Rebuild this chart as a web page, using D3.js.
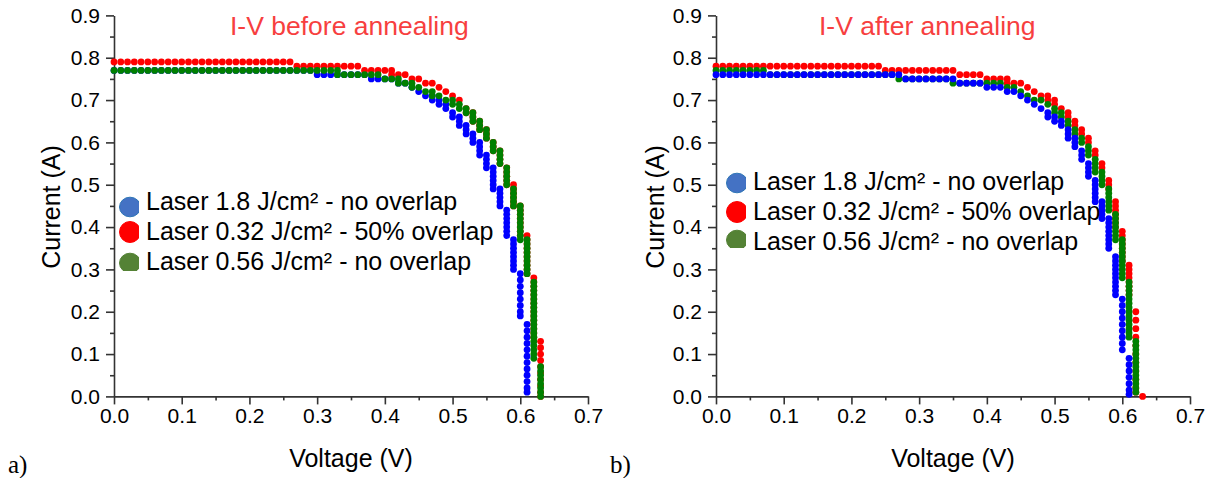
<!DOCTYPE html>
<html><head><meta charset="utf-8">
<script src="https://cdn.jsdelivr.net/npm/d3@7"></script>
<style>
body{margin:0;background:#fff;}
svg{display:block;font-family:"Liberation Sans",Arial,sans-serif;}
</style></head>
<body><svg id="c" width="1210" height="478"></svg>
<script>
// ---------- data ----------
const xTicks = [0,0.1,0.2,0.3,0.4,0.5,0.6,0.7];
const yTicks = [0,0.1,0.2,0.3,0.4,0.5,0.6,0.7,0.8,0.9];
const seriesNames = ["Laser 1.8 J/cm² - no overlap","Laser 0.32 J/cm² - 50% overlap","Laser 0.56 J/cm² - no overlap"];
const titles = ["I-V before annealing","I-V after annealing"];
const panelLabels = ["a)","b)"];

// rows: [voltage, current, current, ...]
const beforeBlue = [
[0.00,0.77],[0.01,0.77],[0.02,0.77],[0.03,0.77],[0.04,0.77],[0.05,0.77],[0.06,0.77],[0.07,0.77],[0.08,0.77],[0.09,0.77],
[0.10,0.77],[0.11,0.77],[0.12,0.77],[0.13,0.77],[0.14,0.77],[0.15,0.77],[0.16,0.77],[0.17,0.77],[0.18,0.77],[0.19,0.77],
[0.20,0.77],[0.21,0.77],[0.22,0.77],[0.23,0.77],[0.24,0.77],[0.25,0.77],[0.26,0.77],[0.27,0.77],[0.28,0.77],[0.29,0.77],
[0.30,0.76],[0.31,0.76],[0.32,0.76],[0.33,0.76],[0.34,0.76],[0.35,0.76],[0.36,0.76],[0.37,0.76],
[0.38,0.75],[0.39,0.75],[0.40,0.75],[0.41,0.75],
[0.42,0.74],[0.43,0.74],[0.44,0.73],[0.45,0.72],[0.46,0.71],[0.47,0.71,0.70],[0.48,0.70,0.69],[0.49,0.69,0.68],
[0.50,0.67,0.66],[0.51,0.66,0.65,0.64],[0.52,0.64,0.63,0.62],[0.53,0.62,0.61,0.60],[0.54,0.60,0.59,0.58,0.57],
[0.55,0.57,0.56,0.55,0.54],[0.56,0.54,0.53,0.52,0.51,0.50,0.49],[0.57,0.49,0.48,0.47,0.46,0.45],
[0.58,0.44,0.43,0.42,0.41,0.40,0.39,0.38],[0.59,0.37,0.36,0.35,0.34,0.33,0.32,0.31,0.30],
[0.60,0.29,0.275,0.26,0.245,0.23,0.215,0.20,0.19],
[0.61,0.17,0.155,0.14,0.125,0.11,0.095,0.08,0.065,0.05,0.035,0.02,0.01]
];
const beforeRed = [
[0.00,0.79],[0.01,0.79],[0.02,0.79],[0.03,0.79],[0.04,0.79],[0.05,0.79],[0.06,0.79],[0.07,0.79],[0.08,0.79],[0.09,0.79],
[0.10,0.79],[0.11,0.79],[0.12,0.79],[0.13,0.79],[0.14,0.79],[0.15,0.79],[0.16,0.79],[0.17,0.79],[0.18,0.79],[0.19,0.79],
[0.20,0.79],[0.21,0.79],[0.22,0.79],[0.23,0.79],[0.24,0.79],[0.25,0.79],[0.26,0.79],
[0.27,0.78],[0.28,0.78],[0.29,0.78],[0.30,0.78],[0.31,0.78],[0.32,0.78],[0.33,0.78],[0.34,0.78],[0.35,0.78],[0.36,0.78],
[0.37,0.77],[0.38,0.77],[0.39,0.77],[0.40,0.77],
[0.41,0.77,0.76],[0.42,0.76],[0.43,0.76],[0.44,0.75],[0.45,0.75],[0.46,0.74],[0.47,0.74],[0.48,0.73],[0.49,0.72],[0.50,0.71],[0.51,0.70],
[0.52,0.68,0.67],[0.53,0.67,0.66,0.65],[0.54,0.65,0.64,0.63],[0.55,0.63,0.62,0.61],[0.56,0.60,0.59,0.58],[0.57,0.58,0.57,0.56,0.55],
[0.58,0.54,0.53,0.52,0.51,0.50],[0.59,0.50,0.49,0.48,0.47,0.46,0.45],[0.60,0.45,0.44,0.43,0.42,0.41,0.40,0.39,0.38],
[0.61,0.38,0.37,0.36,0.35,0.34,0.33,0.32,0.31,0.30,0.29],
[0.62,0.28,0.27,0.26,0.25,0.24,0.23,0.22,0.21,0.20,0.19,0.18,0.17,0.16,0.15,0.14],
[0.63,0.13,0.115,0.10,0.085,0.07,0.055,0.04,0.025,0.01,0.00]
];
const beforeGreen = [
[0.00,0.77],[0.01,0.77],[0.02,0.77],[0.03,0.77],[0.04,0.77],[0.05,0.77],[0.06,0.77],[0.07,0.77],[0.08,0.77],[0.09,0.77],
[0.10,0.77],[0.11,0.77],[0.12,0.77],[0.13,0.77],[0.14,0.77],[0.15,0.77],[0.16,0.77],[0.17,0.77],[0.18,0.77],[0.19,0.77],
[0.20,0.77],[0.21,0.77],[0.22,0.77],[0.23,0.77],[0.24,0.77],[0.25,0.77],[0.26,0.77],[0.27,0.77],[0.28,0.77],[0.29,0.77],
[0.30,0.77],[0.31,0.77],[0.32,0.77],[0.33,0.77,0.76],
[0.34,0.76],[0.35,0.76],[0.36,0.76],[0.37,0.76],[0.38,0.76],[0.39,0.76],
[0.40,0.75],[0.41,0.75],[0.42,0.75,0.74],[0.43,0.74],[0.44,0.74,0.73],[0.45,0.73],[0.46,0.72],[0.47,0.72,0.71],[0.48,0.71],[0.49,0.70],
[0.50,0.70,0.69],[0.51,0.69,0.68],[0.52,0.68,0.67],[0.53,0.67,0.66,0.65],[0.54,0.65,0.64,0.63],[0.55,0.63,0.62,0.61],
[0.56,0.60,0.59,0.58],[0.57,0.58,0.57,0.56,0.55],[0.58,0.54,0.53,0.52,0.51,0.50],[0.59,0.49,0.48,0.47,0.46,0.45],
[0.60,0.45,0.44,0.43,0.42,0.41,0.40,0.39,0.38,0.37],
[0.61,0.37,0.36,0.35,0.34,0.33,0.32,0.31,0.30,0.29],
[0.62,0.27,0.26,0.25,0.24,0.23,0.22,0.21,0.20,0.19,0.18,0.17,0.16,0.15,0.14,0.13,0.12,0.11,0.10,0.09],
[0.63,0.07,0.06,0.05,0.04,0.03,0.02,0.01,0.00]
];
const afterBlue = [
[0.00,0.76],[0.01,0.76],[0.02,0.76],[0.03,0.76],[0.04,0.76],[0.05,0.76],[0.06,0.76],[0.07,0.76],[0.08,0.76],[0.09,0.76],
[0.10,0.76],[0.11,0.76],[0.12,0.76],[0.13,0.76],[0.14,0.76],[0.15,0.76],[0.16,0.76],[0.17,0.76],[0.18,0.76],[0.19,0.76],
[0.20,0.76],[0.21,0.76],[0.22,0.76],[0.23,0.76],[0.24,0.76],[0.25,0.76],[0.26,0.76],[0.27,0.76],
[0.28,0.75],[0.29,0.75],[0.30,0.75],[0.31,0.75],[0.32,0.75],[0.33,0.75],[0.34,0.75],[0.35,0.75],
[0.36,0.74],[0.37,0.74],[0.38,0.74],[0.39,0.74],
[0.40,0.73],[0.41,0.73],[0.42,0.73],[0.43,0.72],[0.44,0.72],
[0.45,0.71],[0.46,0.70],[0.47,0.69],[0.48,0.68],[0.49,0.67,0.66],[0.50,0.66,0.65],[0.51,0.65,0.64],
[0.52,0.63,0.62,0.61],[0.53,0.61,0.60,0.59],[0.54,0.58,0.57,0.56],[0.55,0.55,0.54,0.53,0.52],
[0.56,0.51,0.50,0.49,0.48,0.47,0.46],[0.57,0.46,0.45,0.44,0.43,0.42],
[0.58,0.42,0.41,0.40,0.39,0.38,0.37,0.36,0.35],
[0.59,0.33,0.32,0.31,0.30,0.29,0.28,0.27,0.26,0.25,0.24],
[0.60,0.23,0.215,0.20,0.185,0.17,0.155,0.14,0.125,0.11],
[0.61,0.09,0.075,0.06,0.045,0.03,0.015,0.005]
];
const afterRed = [
[0.00,0.78],[0.01,0.78],[0.02,0.78],[0.03,0.78],[0.04,0.78],[0.05,0.78],[0.06,0.78],[0.07,0.78],[0.08,0.78],[0.09,0.78],
[0.10,0.78],[0.11,0.78],[0.12,0.78],[0.13,0.78],[0.14,0.78],[0.15,0.78],[0.16,0.78],[0.17,0.78],[0.18,0.78],[0.19,0.78],
[0.20,0.78],[0.21,0.78],[0.22,0.78],[0.23,0.78],[0.24,0.78],
[0.25,0.77],[0.26,0.77],[0.27,0.77],[0.28,0.77],[0.29,0.77],[0.30,0.77],[0.31,0.77],[0.32,0.77],[0.33,0.77],[0.34,0.77],[0.35,0.77],
[0.36,0.76],[0.37,0.76],[0.38,0.76],[0.39,0.76],
[0.40,0.75],[0.41,0.75],[0.42,0.75],[0.43,0.75,0.74],[0.44,0.74],[0.45,0.74],[0.46,0.73],[0.47,0.72],[0.48,0.71],
[0.49,0.71,0.70],[0.50,0.70,0.69],[0.51,0.68],[0.52,0.67,0.66],[0.53,0.65,0.64],[0.54,0.63,0.62],[0.55,0.61,0.60],
[0.56,0.58,0.57],[0.57,0.55,0.54],[0.58,0.51,0.50,0.49],
[0.59,0.46,0.45,0.44,0.43,0.42,0.41,0.40],[0.60,0.39,0.38,0.37,0.36,0.35,0.34,0.33,0.32],
[0.61,0.31,0.30,0.29,0.28,0.27,0.26,0.25,0.24],
[0.62,0.20,0.18,0.16,0.14,0.12,0.10,0.08,0.06,0.04,0.02,0.01],[0.63,0.00]
];
const afterGreen = [
[0.00,0.77],[0.01,0.77],[0.02,0.77],[0.03,0.77],[0.04,0.77],[0.05,0.77],[0.06,0.77],[0.07,0.77],
[0.08,0.76],[0.09,0.76],[0.10,0.76],[0.11,0.76],[0.12,0.76],[0.13,0.76],[0.14,0.76],[0.15,0.76],[0.16,0.76],[0.17,0.76],
[0.18,0.76],[0.19,0.76],[0.20,0.76],[0.21,0.76],[0.22,0.76],[0.23,0.76],[0.24,0.76],[0.25,0.76],[0.26,0.76],
[0.27,0.75],[0.28,0.75],[0.29,0.75],[0.30,0.75],[0.31,0.75],[0.32,0.75],[0.33,0.75],[0.34,0.75],
[0.35,0.74],[0.36,0.74],[0.37,0.74],[0.38,0.74],[0.39,0.74],[0.40,0.74],[0.41,0.74],[0.42,0.74],
[0.43,0.73],[0.44,0.73],[0.45,0.72],[0.46,0.71],[0.47,0.70],[0.48,0.70],[0.49,0.69],[0.50,0.68,0.67],[0.51,0.67,0.66],
[0.52,0.65,0.64],[0.53,0.63,0.62],[0.54,0.61,0.60],[0.55,0.59,0.58,0.57],[0.56,0.56,0.55,0.54,0.53],[0.57,0.53,0.52,0.51,0.50],
[0.58,0.49,0.48,0.47,0.46,0.45,0.44],[0.59,0.43,0.42,0.41,0.40,0.39,0.38,0.37],
[0.60,0.37,0.36,0.35,0.34,0.33,0.32,0.31,0.30,0.29,0.28],
[0.61,0.27,0.26,0.25,0.24,0.23,0.22,0.21,0.20,0.19,0.18,0.17,0.16,0.15,0.14],
[0.62,0.13,0.12,0.11,0.10,0.09,0.08,0.07,0.06,0.05,0.04,0.03,0.02,0.01]
];

// ---------- drawing ----------
const dotColors = {blue:"#0000ff", red:"#ff0000", green:"#008000"};
const legendColors = ["#4472c4","#ff0000","#548235"];
const legendStroke = ["#2e75b6","#ff0000","#548235"];

const svg = d3.select("#c");
const yScale = d3.scaleLinear().domain([0,0.9]).range([396.4,15.4]);

const panels = [
  {x0:114, x1:588, title:titles[0], titleX:230, label:panelLabels[0], labelX:8, yTitleX:60,
   legendX:146, legendY:[210,240,270], markerY:[207,232,263],
   order:[["blue",beforeBlue],["red",beforeRed],["green",beforeGreen]]},
  {x0:716, x1:1190, title:titles[1], titleX:819, label:panelLabels[1], labelX:610, yTitleX:664,
   legendX:753, legendY:[190,220,250], markerY:[183,212,240],
   order:[["red",afterRed],["green",afterGreen],["blue",afterBlue]]}
];

const toPts = rows => rows.flatMap(([v,...is]) => is.map(i => ({v,i})));

panels.forEach((p,pi) => {
  const x = d3.scaleLinear().domain([0,0.7]).range([p.x0,p.x1]);
  const g = svg.append("g");

  // minor ticks
  const minorX = xTicks.slice(0,-1).map(t=>+(t+0.05).toFixed(2));
  const minorY = yTicks.slice(0,-1).map(t=>+(t+0.05).toFixed(2));
  g.append("g").attr("transform",`translate(0,${yScale(0)})`)
    .call(d3.axisBottom(x).tickValues(minorX).tickSize(4).tickFormat("").tickSizeOuter(0))
    .call(s=>s.select(".domain").remove());
  g.append("g").attr("transform",`translate(${p.x0},0)`)
    .call(d3.axisLeft(yScale).tickValues(minorY).tickSize(4).tickFormat("").tickSizeOuter(0))
    .call(s=>s.select(".domain").remove());

  // major axes
  const ax = g.append("g").attr("transform",`translate(0,${yScale(0)})`)
    .call(d3.axisBottom(x).tickValues(xTicks).tickSize(8).tickPadding(4).tickFormat(d3.format(".1f")).tickSizeOuter(0));
  const ay = g.append("g").attr("transform",`translate(${p.x0},0)`)
    .call(d3.axisLeft(yScale).tickValues(yTicks).tickSize(8).tickPadding(6).tickFormat(d3.format(".1f")).tickSizeOuter(0));
  [ax,ay].forEach(a=>{
    a.selectAll("text").attr("font-size",21).attr("fill","#000").attr("font-family","Liberation Sans, Arial, sans-serif");
  });
  g.selectAll(".domain, .tick line").attr("stroke","#333").attr("stroke-width",1.6);

  // dots
  p.order.forEach(([col,rows])=>{
    g.append("g").selectAll("circle").data(toPts(rows)).join("circle")
      .attr("cx",d=>x(d.v)).attr("cy",d=>yScale(d.i)).attr("r",3.4)
      .attr("fill",dotColors[col]);
  });

  // title
  g.append("text").attr("x",p.titleX).attr("y",35).attr("font-size",26.5)
    .attr("fill","#f73f3f").text(p.title);

  // axis titles
  g.append("text").attr("x",(p.x0+p.x1)/2).attr("y",467).attr("text-anchor","middle")
    .attr("font-size",25).attr("fill","#000").text("Voltage (V)");
  g.append("text").attr("transform",`translate(${p.yTitleX},207) rotate(-90)`).attr("text-anchor","middle")
    .attr("font-size",25).attr("fill","#000").text("Current (A)");

  // panel label
  g.append("text").attr("x",p.labelX).attr("y",473).attr("font-size",25)
    .attr("font-family","Liberation Serif, Times New Roman, serif").attr("fill","#000").text(p.label);

  // legend
  const cx = p.legendX - 16;
  seriesNames.forEach((name,k)=>{
    const cid = `clip${pi}_${k}`;
    g.append("clipPath").attr("id",cid).append("rect")
      .attr("x",cx-12).attr("y",p.markerY[k]-12).attr("width",21).attr("height",k===2?20:24);
    g.append("ellipse").attr("cx",cx).attr("cy",p.markerY[k]).attr("rx",10.5).attr("ry",k===1?10.5:9.8)
      .attr("fill",legendColors[k]).attr("stroke",legendStroke[k]).attr("stroke-width",1)
      .attr("clip-path",`url(#${cid})`);
    g.append("text").attr("x",p.legendX).attr("y",p.legendY[k]).attr("font-size",25)
      .attr("fill","#000").text(name);
  });
});
</script></body></html>
